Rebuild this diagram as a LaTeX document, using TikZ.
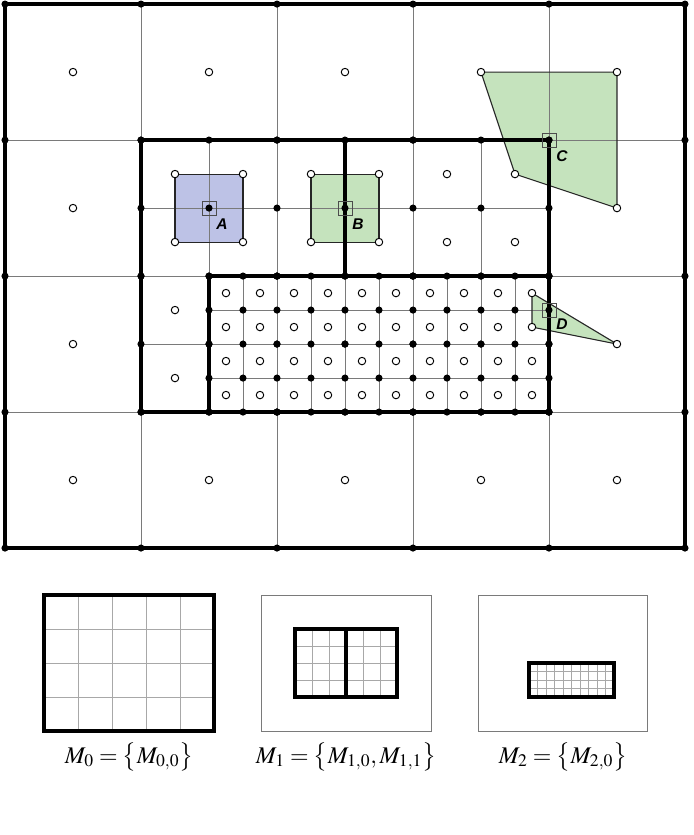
\documentclass[tikz,border=0pt]{standalone}
\usepackage{mathptmx}
\usepackage[no-math]{fontspec}
\newfontfamily\lblfont{Liberation Sans}
\definecolor{cellblue}{HTML}{BDC2E6}
\definecolor{cellgreen}{HTML}{C5E3BD}
\definecolor{gridgray}{HTML}{7A7A7A}
\definecolor{minigray}{HTML}{A8A8A8}

\begin{document}
\begin{tikzpicture}[
    thinline/.style={gridgray, line width=0.65pt},
    thickline/.style={black, line width=2.9pt},
    miniline/.style={minigray, line width=0.5pt},
    cellpoly/.style={draw=black!85, line width=0.9pt, line join=round},
    vertexdot/.style={fill=black, draw=none},
    centerdot/.style={fill=white, draw=black, line width=0.8pt},
    marker/.style={draw=black!70, line width=0.5pt, minimum size=0.41cm, inner sep=0pt},
    lbl/.style={font=\lblfont\fontsize{13}{15}\selectfont\bfseries\itshape},
    mlabel/.style={font=\fontsize{20}{24}\selectfont}
]
    \path[use as bounding box] (-0.147,-8.44) rectangle (20.26,16.12);

    % Marked vertices
    \coordinate (pA) at (6,10);
    \coordinate (pB) at (10,10);
    \coordinate (pC) at (16,12);
    \coordinate (pD) at (16,7);

    % Control volumes
    \fill[cellblue] (5,9) rectangle (7,11);
    \fill[cellgreen] (9,9) rectangle (11,11);
    \fill[cellgreen] (14,14) -- (18,14) -- (18,10) -- (15,11) -- cycle;
    \fill[cellgreen] (15.5,7.5) -- (15.5,6.5) -- (18,6) -- cycle;

    % Grids (level 0, 1, 2)
    \draw[thinline] (0,0) grid[step=4] (20,16);
    \draw[thinline] (4,4) grid[step=2] (16,12);
    \draw[thinline] (6,4) grid[step=1] (16,8);

    % Control volume outlines
    \draw[cellpoly] (5,9) rectangle (7,11);
    \draw[cellpoly] (9,9) rectangle (11,11);
    \draw[cellpoly] (14,14) -- (18,14) -- (18,10) -- (15,11) -- cycle;
    \draw[cellpoly] (15.5,7.5) -- (15.5,6.5) -- (18,6) -- cycle;

    % Patch boundaries
    \draw[thickline] (0,0) rectangle (20,16);
    \draw[thickline] (4,4) rectangle (16,12);
    \draw[thickline] (10,8) -- (10,12);
    \draw[thickline] (6,4) rectangle (16,8);

    % Markers
    \node[marker] (mA) at (pA) {};
    \node[marker] (mB) at (pB) {};
    \node[marker] (mC) at (pC) {};
    \node[marker] (mD) at (pD) {};

    % Cell centres
    \foreach \p in {(2,14),(6,14),(10,14),(14,14),(18,14),(2,10),(18,10),(2,6),(18,6),
                    (2,2),(6,2),(10,2),(14,2),(18,2),(5,7),(5,5)}
        \draw[centerdot] \p circle (0.11);
    \foreach \x in {5,7,...,15}
        \foreach \y in {9,11}
            \draw[centerdot] (\x,\y) circle (0.11);
    \foreach \x in {6.5,7.5,...,15.5}
        \foreach \y in {4.5,5.5,6.5,7.5}
            \draw[centerdot] (\x,\y) circle (0.11);

    % Vertices
    \foreach \x in {0,4,...,20}
        \foreach \y in {0,4,...,16}
            \fill[vertexdot] (\x,\y) circle (0.105);
    \foreach \x in {4,6,...,16}
        \foreach \y in {4,6,...,12}
            \fill[vertexdot] (\x,\y) circle (0.105);
    \foreach \x in {6,...,16}
        \foreach \y in {4,...,8}
            \fill[vertexdot] (\x,\y) circle (0.105);

    % Labels
    \node[lbl] (labA) at ([shift={(0.38,-0.48)}]pA) {A};
    \node[lbl] (labB) at ([shift={(0.38,-0.48)}]pB) {B};
    \node[lbl] (labC) at ([shift={(0.38,-0.48)}]pC) {C};
    \node[lbl] (labD) at ([shift={(0.38,-0.4)}]pD) {D};

    % Level overviews
    \begin{scope}[shift={(1.15,-5.38)}, scale=0.25]
        \draw[miniline] (0,0) grid[step=4] (20,16);
        \draw[thickline] (0,0) rectangle (20,16);
    \end{scope}
    \begin{scope}[shift={(7.53,-5.38)}, scale=0.25]
        \draw[gridgray, line width=0.7pt] (0,0) rectangle (20,16);
        \draw[miniline] (4,4) grid[step=2] (16,12);
        \draw[thickline] (4,4) rectangle (16,12);
        \draw[thickline] (10,4) -- (10,12);
    \end{scope}
    \begin{scope}[shift={(13.91,-5.38)}, scale=0.25]
        \draw[gridgray, line width=0.7pt] (0,0) rectangle (20,16);
        \draw[miniline] (6,4) grid[step=1] (16,8);
        \draw[thickline] (6,4) rectangle (16,8);
    \end{scope}

    \node[mlabel] (lvl0) at (3.65,-6.15) {$M_0=\big\{M_{0,0}\big\}$};
    \node[mlabel] (lvl1) at (10.03,-6.15) {$M_1=\big\{M_{1,0},M_{1,1}\big\}$};
    \node[mlabel] (lvl2) at (16.41,-6.15) {$M_2=\big\{M_{2,0}\big\}$};
\end{tikzpicture}
\end{document}
